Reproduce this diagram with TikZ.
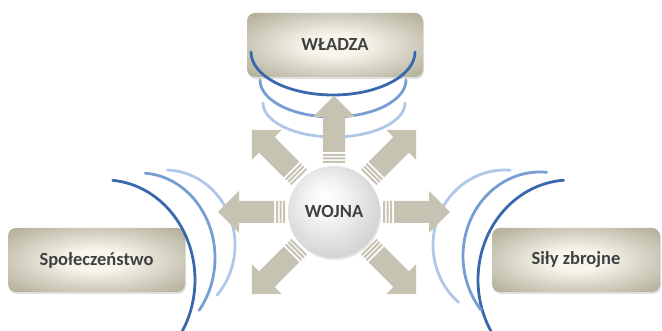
\documentclass[tikz,border=0pt]{standalone}
\usepackage{fontspec}
\setsansfont{Carlito}
\usepackage{tikz}
\usetikzlibrary{positioning,calc,shadows}

\definecolor{boxin}{RGB}{248,246,236}
\definecolor{boxmid}{RGB}{190,186,168}
\definecolor{boxout}{RGB}{128,123,104}
\definecolor{ballout}{RGB}{172,172,172}
\definecolor{arrowfill}{RGB}{198,195,179}
\definecolor{wavedark}{RGB}{58,104,172}
\definecolor{wavemid}{RGB}{118,158,210}
\definecolor{wavelight}{RGB}{176,200,232}
\definecolor{labeltext}{RGB}{64,64,64}

\pgfdeclareradialshading{boxshade}{\pgfpoint{0bp}{0bp}}{color(0bp)=(boxin); color(8bp)=(boxin); color(30bp)=(boxmid); color(52bp)=(boxout); color(70bp)=(boxout)}
\pgfdeclareradialshading{ballshade}{\pgfpoint{-6bp}{8bp}}{color(0bp)=(white); color(10bp)=(white!96!black); color(50bp)=(ballout)}

\begin{document}
\begin{tikzpicture}[x=1pt,y=1pt,
	areabox/.style={rectangle, rounded corners=8pt, shade, shading=boxshade, minimum height=64pt, text=labeltext, font=\sffamily\bfseries\fontsize{18.5}{22}\selectfont, drop shadow={opacity=0.25, shadow xshift=1pt, shadow yshift=-2pt}},
	warball/.style={circle, shade, shading=ballshade, minimum size=92pt, inner sep=0pt, text=labeltext, font=\sffamily\bfseries\fontsize{18.5}{22}\selectfont, drop shadow={opacity=0.2, shadow xshift=1pt, shadow yshift=-2pt}},
	wave/.style={line width=2.8pt, line cap=round}]
			\begingroup
			\useasboundingbox (0,0) rectangle (662,331);
			
			\node[areabox, minimum width=176pt] (wladza) at (335, 286) {WŁADZA};
			\node[areabox, minimum width=177pt] (spoleczenstwo) at (96.5, 71) {Społeczeństwo};
			\node[areabox, minimum width=168pt] (sily) at (576, 71) {Siły zbrojne};
			
			\draw[wave, wavedark] ([shift={(180:82 and 43)}]333,279) arc[start angle=180, end angle=360, x radius=82, y radius=43];
			\draw[wave, wavemid] ([shift={(180:73 and 37)}]333,251) arc[start angle=180, end angle=360, x radius=73, y radius=37];
			\draw[wave, wavelight] ([shift={(180:71 and 34)}]334,228) arc[start angle=180, end angle=360, x radius=71, y radius=34];
			
			\draw[wave, wavedark] ([shift={(85:90 and 100)}]105,51) arc[start angle=85, end angle=-31, x radius=90, y radius=100];
			\draw[wave, wavemid] ([shift={(86:75 and 85)}]140,73) arc[start angle=86, end angle=-38, x radius=75, y radius=85];
			\draw[wave, wavelight] ([shift={(88:70 and 75)}]165,86) arc[start angle=88, end angle=-42, x radius=70, y radius=75];
			
			\draw[wave, wavedark] ([shift={(94:92 and 100)}]570,51) arc[start angle=94, end angle=211, x radius=92, y radius=100];
			\draw[wave, wavemid] ([shift={(85:77 and 84)}]540,75) arc[start angle=85, end angle=220, x radius=77, y radius=84];
			\draw[wave, wavelight] ([shift={(86:72 and 75)}]505,86) arc[start angle=86, end angle=230, x radius=72, y radius=75];
			
			\coordinate (hub) at (334, 119);
			\foreach \a in {0,45,90,135,180,225,315} {
				\begin{scope}[shift={(hub)}, rotate=\a]
					\fill[arrowfill] (49,-11) rectangle (51,11) (52.5,-11) rectangle (54.5,11) (56,-11) rectangle (58,11);
					\fill[arrowfill] (60,-11) -- (95,-11) -- (95,-21) -- (116,0) -- (95,21) -- (95,11) -- (60,11) -- cycle;
				\end{scope}
			}
			
			\node[warball] (wojna) at (hub) {WOJNA};
			\endgroup
\end{tikzpicture}
\end{document}
